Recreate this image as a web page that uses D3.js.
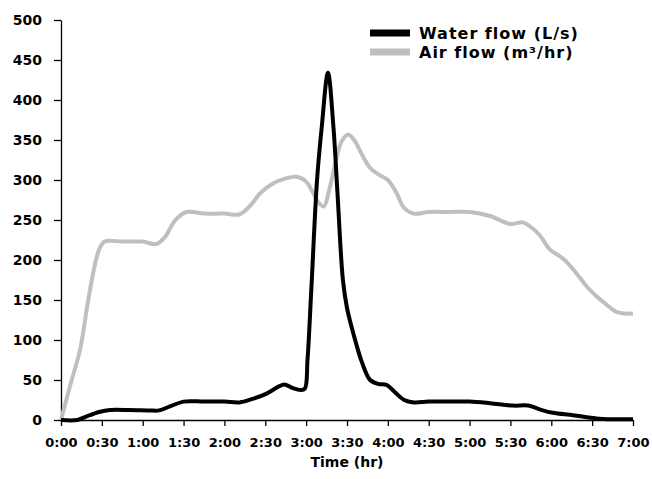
<!DOCTYPE html>
<html>
<head>
<meta charset="utf-8">
<script src="https://cdn.jsdelivr.net/npm/d3@7"></script>
<style>
  body { margin: 0; background: #fff; }
  text { font-family: "DejaVu Sans", sans-serif; font-weight: bold; fill: #000; }
</style>
</head>
<body>
<div id="chart"></div>
<script>
// time in minutes since start
const waterTimes = [0, 12, 18, 28, 36, 50, 65, 72, 80, 90, 105, 120, 131, 140, 151, 160, 164, 170, 176, 179, 181, 184, 188, 191.5, 196, 200, 203, 207, 210, 215, 221, 227, 233, 239, 245, 252, 259, 270, 285, 300, 315, 332, 343, 352, 361, 376, 393, 405, 420];
const waterFlow = [0, 0, 4, 10, 12.5, 12.5, 12, 12, 17, 23, 23, 23, 22, 26, 33, 42, 44.5, 40, 37.5, 39, 75, 170, 300, 367, 434, 367, 284, 175, 140, 106, 72, 50, 45, 44, 35, 25, 22, 23, 23, 23, 21, 18, 18, 13, 9, 6, 2, 1, 1];

const airTimes = [0, 7, 14, 20, 25, 28, 32, 45, 60, 70, 76, 84, 92, 105, 120, 131, 140, 146, 155, 165, 173, 180, 185, 189, 193, 197, 202, 206, 211, 216, 220, 227, 234, 240, 246, 252, 259, 270, 285, 300, 315, 330, 339, 346, 352, 359, 366, 371, 380, 387, 393, 400, 408, 414, 420];
const airFlow = [0, 45, 88, 150, 195, 213, 223, 223, 223, 220, 228, 250, 260, 258, 258, 257, 270, 283, 295, 302, 304, 298, 284, 272, 267, 288, 325, 348, 357, 348, 335, 315, 306, 300, 285, 265, 258, 260, 260, 260, 255, 245, 247, 240, 230, 213, 205, 198, 180, 165, 155, 145, 135, 133, 133];

const tickTimes = [0, 30, 60, 90, 120, 150, 180, 210, 240, 270, 300, 330, 360, 390, 420];
const tickLabels = ["0:00", "0:30", "1:00", "1:30", "2:00", "2:30", "3:00", "3:30", "4:00", "4:30", "5:00", "5:30", "6:00", "6:30", "7:00"];
const yTicks = [0, 50, 100, 150, 200, 250, 300, 350, 400, 450, 500];

const series = [
  { name: "Water flow (L/s)", times: waterTimes, values: waterFlow, color: "#000000" },
  { name: "Air flow (m\u00b3/hr)", times: airTimes, values: airFlow, color: "#bfbfbf" }
];

const width = 652, height = 479;

const svg = d3.select("#chart")
    .append("svg")
    .attr("width", width)
    .attr("height", height)

const x = d3.scaleLinear().domain([0, 420]).range([61, 633]);
const y = d3.scaleLinear().domain([0, 500]).range([420, 20]);

// axes
const xAxis = svg.append("g")
    .attr("transform", "translate(0,420)")
    .call(d3.axisBottom(x)
        .tickValues(tickTimes)
        .tickFormat((d, i) => tickLabels[i])
        .tickSize(6)
        .tickSizeOuter(0)
        .tickPadding(12));
xAxis.selectAll("text").style("font-size", "13px");

const yAxis = svg.append("g")
    .attr("transform", "translate(61,0)")
    .call(d3.axisLeft(y)
        .tickValues(yTicks)
        .tickSize(7)
        .tickSizeOuter(0)
        .tickPadding(12));
yAxis.selectAll("text").style("font-size", "14px");

svg.selectAll(".domain, .tick line")
    .attr("stroke", "#000")
    .attr("stroke-width", 1.3);

// lines, air drawn first so water sits on top
const line = d3.line()
    .x((d) => x(d[0]))
    .y((d) => y(d[1]))
    .curve(d3.curveCatmullRom.alpha(0.5));

svg.selectAll(".series")
    .data(series.slice().reverse())
    .enter()
    .append("path")
    .attr("class", "series")
    .attr("fill", "none")
    .attr("stroke", (d) => d.color)
    .attr("stroke-width", 4)
    .attr("stroke-linejoin", "round")
    .attr("d", (d) => line(d.times.map((t, i) => [t, d.values[i]])));

// axis title
svg.append("text")
    .attr("x", 347)
    .attr("y", 467)
    .attr("text-anchor", "middle")
    .style("font-size", "14px")
    .text("Time (hr)");

// legend
const legend = svg.selectAll(".legend")
    .data(series)
    .enter()
    .append("g")
    .attr("class", "legend")
    .attr("transform", (d, i) => "translate(370," + (33 + i * 19) + ")");

legend.append("rect")
    .attr("x", 0)
    .attr("y", -3.5)
    .attr("width", 40)
    .attr("height", 7)
    .attr("fill", (d) => d.color);

legend.append("text")
    .attr("x", 49)
    .attr("y", 5.5)
    .style("font-size", "16px")
    .style("letter-spacing", "1px")
    .text((d) => d.name);
</script>
</body>
</html>
